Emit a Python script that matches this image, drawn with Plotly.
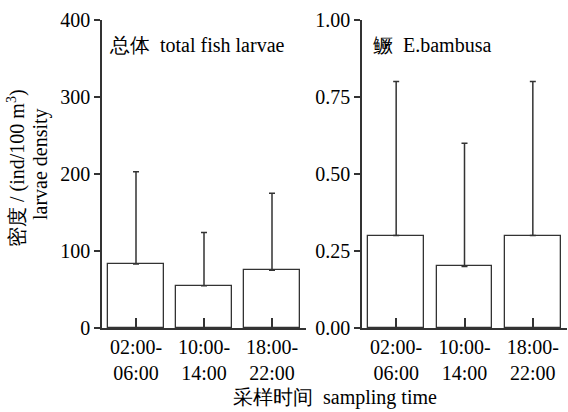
import plotly.graph_objects as go

categories = ["02:00-<br>06:00", "10:00-<br>14:00", "18:00-<br>22:00"]
total_mean = [83, 55, 75]
total_upper = [203, 124, 175]
bamb_mean = [0.30, 0.20, 0.30]
bamb_upper = [0.80, 0.60, 0.80]
left_ticks = [0, 100, 200, 300, 400]
right_ticks = [0, 0.25, 0.5, 0.75, 1.0]
right_ticklabels = ["0.00", "0.25", "0.50", "0.75", "1.00"]

W, H = 568, 412
LC = "#333333"
FONT = "Liberation Serif"

def px(x):
    return x / W

def py(y):
    return 1 - y / H

fig = go.Figure()

def add_panel(mean, upper, xa, ya):
    fig.add_trace(go.Bar(
        x=list(range(len(categories))), y=mean, width=0.81,
        marker=dict(color="white", line=dict(color=LC, width=1.3)),
        error_y=dict(type="data", symmetric=False,
                     array=[u - m for u, m in zip(upper, mean)],
                     arrayminus=[0] * len(mean),
                     color=LC, thickness=1.5, width=3),
        xaxis=xa, yaxis=ya, showlegend=False,
    ))

add_panel(total_mean, total_upper, "x", "y")
add_panel(bamb_mean, bamb_upper, "x2", "y2")

ydom = [py(328), py(20)]
xcommon = dict(range=[-0.5, 2.5], tickmode="array", tickvals=[0, 1, 2],
               ticktext=categories, ticks="inside", ticklen=10, tickwidth=1.5,
               tickcolor=LC, showline=True, linecolor=LC, linewidth=1.5,
               showgrid=False, zeroline=False, automargin=False,
               layer="above traces",
               tickfont=dict(family=FONT, size=20, color="black"))
ycommon = dict(ticks="outside", ticklen=6, tickwidth=1.5, tickcolor=LC,
               showline=True, linecolor=LC, linewidth=1.5, showgrid=False,
               zeroline=False, domain=ydom, automargin=False,
               layer="above traces",
               tickfont=dict(family=FONT, size=20, color="black"))

fig.update_layout(
    width=W, height=H,
    margin=dict(l=0, r=0, t=0, b=0, pad=0),
    paper_bgcolor="white", plot_bgcolor="white",
    font=dict(family=FONT, color="black"),
    bargap=0,
    xaxis=dict(domain=[px(102), px(306)], anchor="y", **xcommon),
    xaxis2=dict(domain=[px(362), px(567)], anchor="y2", **xcommon),
    yaxis=dict(range=[0, 400], tickvals=left_ticks, anchor="x", **ycommon),
    yaxis2=dict(range=[0, 1.0], tickvals=right_ticks, ticktext=right_ticklabels,
                anchor="x2", **ycommon),
)

ann_font = dict(family=FONT, size=20, color="black")
fig.add_annotation(text="总体  total fish larvae", x=px(107), y=py(45),
                   xref="paper", yref="paper", xanchor="left", yanchor="middle",
                   showarrow=False, font=ann_font)
fig.add_annotation(text="鳜  E.bambusa", x=px(371), y=py(45),
                   xref="paper", yref="paper", xanchor="left", yanchor="middle",
                   showarrow=False, font=ann_font)
fig.add_annotation(text="采样时间  sampling time", x=px(335), y=py(397),
                   xref="paper", yref="paper", xanchor="center", yanchor="middle",
                   showarrow=False, font=ann_font)
fig.add_annotation(text="密度 / (ind/100 m<sup>3</sup>)", x=px(16), y=py(168),
                   xref="paper", yref="paper", xanchor="center", yanchor="middle",
                   textangle=-90, showarrow=False, font=ann_font)
fig.add_annotation(text="larvae density", x=px(40), y=py(164),
                   xref="paper", yref="paper", xanchor="center", yanchor="middle",
                   textangle=-90, showarrow=False, font=ann_font)

fig.write_html("out.html")
